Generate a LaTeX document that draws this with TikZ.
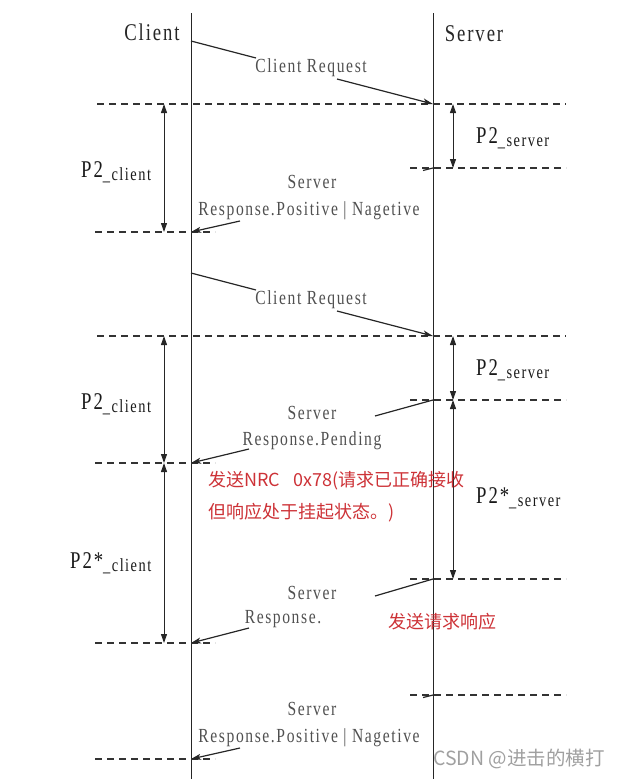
\documentclass[tikz,border=0pt]{standalone}
\usepackage{fontspec}
\usetikzlibrary{arrows.meta}
\newfontfamily\cf[FakeStretch=0.78,LetterSpace=8]{Liberation Serif}
\newfontfamily\cjk{Noto Sans CJK SC}
\definecolor{redtxt}{RGB}{205,50,55}
\definecolor{msgtxt}{RGB}{80,80,80}
\definecolor{wm}{RGB}{160,160,160}
\newcommand{\fsz}[1]{\fontsize{#1}{#1}\selectfont}
\newcommand{\plab}[2]{{\fsz{24}#1}\raisebox{-3pt}{\fsz{18.5}\_#2}}
\begin{document}
\begin{tikzpicture}[x=1pt,y=-1pt,
  life/.style={line width=0.9pt,draw=black!85},
  dline/.style={line width=1.4pt,draw=black!80,dash pattern=on 7pt off 5pt},
  msg/.style={line width=1.2pt,draw=black!85},
  msgarrow/.style={msg,-{Stealth[length=10pt,width=6pt,inset=2.5pt]}},
  span/.style={line width=1pt,draw=black!85,{Triangle[length=9pt,width=6pt]}-{Triangle[length=9pt,width=6pt]}},
  head/.style={inner sep=0,font=\cf\fsz{24},text=black!85,anchor=base},
  mtxt/.style={inner sep=0,font=\cf\fsz{20},text=msgtxt,anchor=base},
  ptxt/.style={inner sep=0,font=\cf,text=black!90,anchor=base west},
  rtxt/.style={inner sep=0,font=\cjk\fsz{18},text=redtxt,anchor=base west},
  wtxt/.style={inner sep=0,font=\cjk\fsz{19.5},text=wm,anchor=base west},
]
\useasboundingbox (0,0) rectangle (619,779);
% lifelines
\coordinate (cTop) at (191,13); \coordinate (cBot) at (191,779);
\coordinate (sTop) at (433,13); \coordinate (sBot) at (433,779);
\draw[life] (cTop) -- (cBot);
\draw[life] (sTop) -- (sBot);
\node[head] (client) at (152,40) {Client};
\node[head] (server) at (474,41.5) {Server};

% dashed levels
\foreach \n/\y in {L1/104,L4/336}{
  \coordinate (\n a) at (97,\y); \coordinate (\n b) at (566,\y);
  \draw[dline] (\n a) -- (\n b);}
\foreach \n/\y in {L2/168,L5/400,L7/579,L9/695}{
  \coordinate (\n a) at (410,\y); \coordinate (\n b) at (566,\y);
  \draw[dline] (\n a) -- (\n b);}
\foreach \n/\y in {L3/232,L6/463,L8/643,L10/759}{
  \coordinate (\n a) at (95,\y); \coordinate (\n b) at (215,\y);
  \draw[dline] (\n a) -- (\n b);}

% requests
\foreach \n/\d in {q1/0,q2/232}{
  \node[mtxt] (\n) at (311,72+\d) {Client Request};
  \coordinate (\n a) at (191,41+\d); \coordinate (\n b) at (256,58+\d);
  \coordinate (\n c) at (337,79+\d); \coordinate (\n d) at (433,104+\d);
  \draw[msg] (\n a) -- (\n b);
  \draw[msgarrow] (\n c) -- (\n d);}

% response 1 and last
\foreach \n/\d in {p1/0,p4/527}{
  \node[mtxt] (\n s) at (312,188+\d) {Server};
  \node[mtxt] (\n r) at (309,215+\d) {Response.Positive | Nagetive};
  \coordinate (\n a) at (433,168+\d); \coordinate (\n b) at (423,170.5+\d);
  \coordinate (\n c) at (240,221+\d); \coordinate (\n d) at (191,232+\d);
  \draw[msg] (\n a) -- (\n b);
  \draw[msgarrow] (\n c) -- (\n d);}

% pending
\node[mtxt] (p2s) at (312,419) {Server};
\node[mtxt] (p2r) at (312,445) {Response.Pending};
\coordinate (p2a) at (433,400); \coordinate (p2b) at (375,416);
\coordinate (p2c) at (249,449); \coordinate (p2d) at (191,463);
\draw[msg] (p2a) -- (p2b);
\draw[msgarrow] (p2c) -- (p2d);

% final response
\node[mtxt] (p3s) at (312,599) {Server};
\node[mtxt] (p3r) at (283,623) {Response.};
\coordinate (p3a) at (433,579); \coordinate (p3b) at (375,596);
\coordinate (p3c) at (249,628); \coordinate (p3d) at (191,643);
\draw[msg] (p3a) -- (p3b);
\draw[msgarrow] (p3c) -- (p3d);

% timing spans
\coordinate (c1a) at (164,104); \coordinate (c1b) at (164,232);
\coordinate (c2a) at (164,336); \coordinate (c2b) at (164,463);
\coordinate (c3b) at (164,643);
\draw[span] (c1a) -- (c1b);
\draw[span] (c2a) -- (c2b);
\draw[span] (c2b) -- (c3b);
\coordinate (s1a) at (453,104); \coordinate (s1b) at (453,168);
\coordinate (s2a) at (453,336); \coordinate (s2b) at (453,400);
\coordinate (s3b) at (453,579);
\draw[span] (s1a) -- (s1b);
\draw[span] (s2a) -- (s2b);
\draw[span] (s2b) -- (s3b);

\node[ptxt] (pc1) at (81,177) {\plab{P2}{client}};
\node[ptxt] (pc2) at (81,409) {\plab{P2}{client}};
\node[ptxt] (pc3) at (70,568) {\plab{P2*}{client}};
\node[ptxt] (ps1) at (476,143) {\plab{P2}{server}};
\node[ptxt] (ps2) at (476,375) {\plab{P2}{server}};
\node[ptxt] (ps3) at (476,503) {\plab{P2*}{server}};

% red notes
\node[rtxt] (n1) at (208,486) {发送NRC\hspace{13pt}0x78(请求已正确接收};
\node[rtxt] (n2) at (208,518) {但响应处于挂起状态。)};
\node[rtxt] (n3) at (388,628) {发送请求响应};

% watermark
\node[wtxt] (wm) at (433,765) {CSDN @进击的横打};
\end{tikzpicture}
\end{document}
